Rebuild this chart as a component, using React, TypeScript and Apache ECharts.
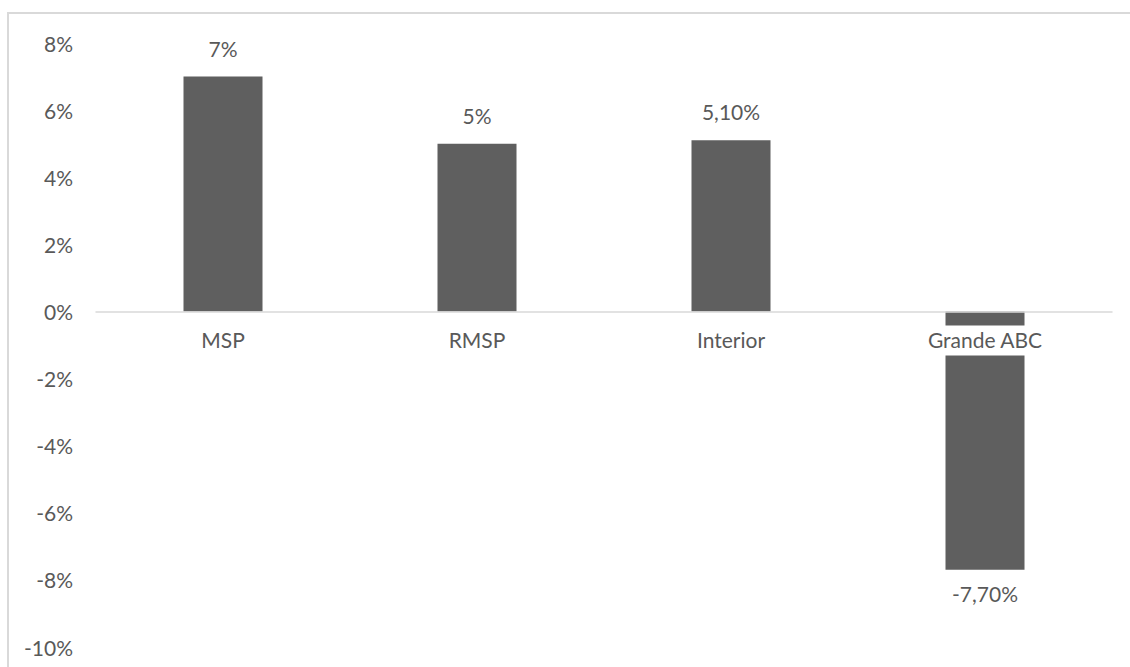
import React, { useEffect, useRef } from "react";
import * as echarts from "echarts";

const categories = ["MSP", "RMSP", "Interior", "Grande ABC"];
const values = [7, 5, 5.1, -7.7];
const yTicks = { min: -10, max: 8, interval: 2 };

const textColor = "#595959";
const fontFamily = "Lato, 'Open Sans', sans-serif";
const fontSize = 21;

const WIDTH = 1130;
const HEIGHT = 667;
const GRID = { left: 96, right: 18, top: 43, bottom: 20 };

function pct(v: number): string {
  return Number.isInteger(v) ? `${v}%` : `${v.toFixed(2).replace(".", ",")}%`;
}

export default function App() {
  const ref = useRef<HTMLDivElement>(null);

  useEffect(() => {
    if (!ref.current) return;
    const chart = echarts.init(ref.current, null, { renderer: "svg" });

    // Lift the category axis from the grid bottom up to the zero line.
    const plotHeight = HEIGHT - GRID.top - GRID.bottom;
    const zeroOffset = -(plotHeight * (0 - yTicks.min)) / (yTicks.max - yTicks.min);

    chart.setOption({
      animation: false,
      backgroundColor: "#ffffff",
      graphic: [
        {
          type: "polyline",
          shape: { points: [[8, 700], [8, 13], [1140, 13]] },
          style: { stroke: "#d9d9d9", lineWidth: 2, fill: null },
          silent: true,
        },
      ],
      grid: {
        ...GRID,
        containLabel: false,
        outerBoundsMode: "none",
      },
      xAxis: {
        type: "category",
        data: categories,
        z: 5,
        offset: zeroOffset,
        axisLine: { show: true, onZero: false, lineStyle: { color: "#d9d9d9", width: 1.5 } },
        axisTick: { show: false },
        axisLabel: {
          color: textColor,
          fontFamily,
          fontSize,
          margin: 14,
          backgroundColor: "#ffffff",
          padding: [4, 3, 5, 3],
        },
      },
      yAxis: {
        type: "value",
        min: yTicks.min,
        max: yTicks.max,
        interval: yTicks.interval,
        axisLine: { show: false },
        axisTick: { show: false },
        splitLine: { show: false },
        axisLabel: {
          color: textColor,
          fontFamily,
          fontSize,
          margin: 23,
          formatter: (v: number) => `${v}%`,
        },
      },
      series: [
        {
          type: "bar",
          data: values.map((v) => ({
            value: v,
            label: { distance: v < 0 ? 13 : 18 },
          })),
          barWidth: 79,
          itemStyle: { color: "#5f5f5f" },
          label: {
            show: true,
            position: "outside",
            color: textColor,
            fontFamily,
            fontSize,
            formatter: (p: any) => pct(p.value),
          },
        },
      ],
    });
    return () => chart.dispose();
  }, []);

  return (
    <div
      ref={ref}
      style={{ position: "fixed", left: 0, top: 0, width: WIDTH, height: HEIGHT }}
    />
  );
}
